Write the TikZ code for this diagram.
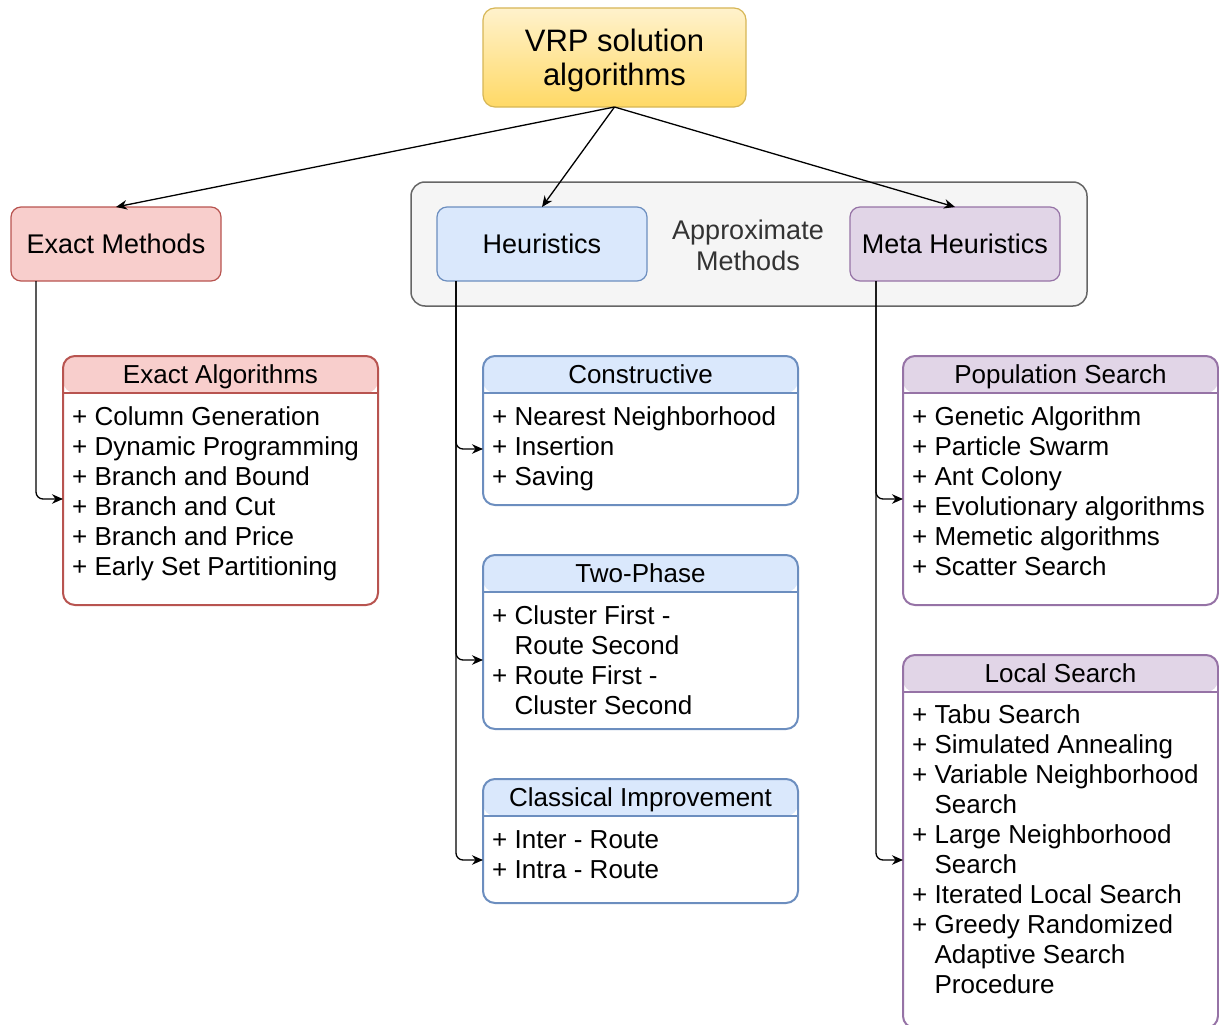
\documentclass[tikz,border=0pt]{standalone}
\usepackage{fontspec}
\setmainfont{Liberation Sans}
\usetikzlibrary{arrows.meta}

\definecolor{rootTop}{HTML}{FFF2CC}
\definecolor{rootBot}{HTML}{FFD966}
\definecolor{rootLine}{HTML}{D6B656}
\definecolor{redFill}{HTML}{F8CECC}
\definecolor{redLine}{HTML}{B85450}
\definecolor{blueFill}{HTML}{DAE8FC}
\definecolor{blueLine}{HTML}{6C8EBF}
\definecolor{purpleFill}{HTML}{E1D5E7}
\definecolor{purpleLine}{HTML}{9673A6}
\definecolor{groupFill}{HTML}{F5F5F5}
\definecolor{groupLine}{HTML}{666666}
\definecolor{groupText}{HTML}{333333}

\tikzset{
  labelfont/.style={font=\fontsize{27}{31}\selectfont},
  listfont/.style={font=\fontsize{26}{30}\selectfont},
  catbox/.style={draw=#1Line, fill=#1Fill, rounded corners=10pt, line width=1.2pt,
    inner sep=0pt, outer sep=0pt, anchor=north west,
    minimum width=210pt, minimum height=74pt, labelfont},
  listframe/.style={draw=#1Line, fill=white, rounded corners=12pt, line width=2pt,
    inner sep=0pt, outer sep=0pt, anchor=north west, minimum width=315pt,
    path picture={\fill[#1Fill] (path picture bounding box.north west)
      rectangle ([yshift=-37pt]path picture bounding box.north east);}},
  sepline/.style={draw=#1Line, line width=2pt},
  headtext/.style={listfont, inner sep=0pt, anchor=base},
  bodytext/.style={listfont, inner sep=0pt, anchor=base west},
  conn/.style={draw=black, line width=1.3pt, -{Stealth[length=11pt,width=9.5pt,inset=3.5pt]}},
  elbow/.style={conn, rounded corners=7pt},
}

\newcommand\itemlist[1]{\begin{tabular}[t]{@{}l@{}}#1\end{tabular}}
\newcommand\cont{\phantom{+ }}

\begin{document}
\begin{tikzpicture}[x=1pt,y=-1pt]
\useasboundingbox (0,0) rectangle (1219,1025);

% group frame for the approximate methods
\node[draw=groupLine, fill=groupFill, line width=1.5pt, rounded corners=14pt,
  inner sep=0pt, outer sep=0pt, anchor=north west,
  minimum width=676pt, minimum height=124pt] (apx) at (411,182) {};
\node[labelfont, text=groupText, align=center, inner sep=0pt] (apxlabel) at (748,245)
  {Approximate\\Methods};

% root
\node[draw=rootLine, top color=rootTop, bottom color=rootBot, line width=1.2pt,
  rounded corners=12pt, inner sep=0pt, outer sep=0pt,
  minimum width=263pt, minimum height=99pt,
  font=\fontsize{31}{34}\selectfont] (root) at (614.5,57.5)
  {\raisebox{-4pt}[\height][\depth]{\begin{tabular}{@{}c@{}}VRP solution\\algorithms\end{tabular}}};

% categories
\node[catbox=red] (em) at (11,207) {Exact Methods};
\node[catbox=blue] (heu) at (437,207) {Heuristics};
\node[catbox=purple] (meta) at (850,207) {Meta Heuristics};

% Exact algorithms
\node[listframe=red, minimum height=249pt] (ea) at (63,356) {};
\draw[sepline=red] ([yshift=-37pt]ea.north west) -- ([yshift=-37pt]ea.north east);
\node[headtext] (ea-t) at ([yshift=-27pt]ea.north) {Exact Algorithms};
\node[bodytext] (ea-b) at ([xshift=9pt,yshift=-69pt]ea.north west) {\itemlist{%
  + Column Generation\\
  + Dynamic Programming\\
  + Branch and Bound\\
  + Branch and Cut\\
  + Branch and Price\\
  + Early Set Partitioning}};
\coordinate (ea-in) at ([yshift=-143pt]ea.north west);

% Constructive
\node[listframe=blue, minimum height=149pt] (con) at (483,356) {};
\draw[sepline=blue] ([yshift=-37pt]con.north west) -- ([yshift=-37pt]con.north east);
\node[headtext] (con-t) at ([yshift=-27pt]con.north) {Constructive};
\node[bodytext] (con-b) at ([xshift=9pt,yshift=-69pt]con.north west) {\itemlist{%
  + Nearest Neighborhood\\
  + Insertion\\
  + Saving}};
\coordinate (con-in) at ([yshift=-93pt]con.north west);

% Two-Phase
\node[listframe=blue, minimum height=174pt] (two) at (483,555) {};
\draw[sepline=blue] ([yshift=-37pt]two.north west) -- ([yshift=-37pt]two.north east);
\node[headtext] (two-t) at ([yshift=-27pt]two.north) {Two-Phase};
\node[bodytext] (two-b) at ([xshift=9pt,yshift=-69pt]two.north west) {\itemlist{%
  + Cluster First -\\
  \cont Route Second\\
  + Route First -\\
  \cont Cluster Second}};
\coordinate (two-in) at ([yshift=-105pt]two.north west);

% Classical improvement
\node[listframe=blue, minimum height=124pt] (cls) at (483,779) {};
\draw[sepline=blue] ([yshift=-37pt]cls.north west) -- ([yshift=-37pt]cls.north east);
\node[headtext] (cls-t) at ([yshift=-27pt]cls.north) {Classical Improvement};
\node[bodytext] (cls-b) at ([xshift=9pt,yshift=-69pt]cls.north west) {\itemlist{%
  + Inter - Route\\
  + Intra - Route}};
\coordinate (cls-in) at ([yshift=-81pt]cls.north west);

% Population search
\node[listframe=purple, minimum height=249pt] (pop) at (903,356) {};
\draw[sepline=purple] ([yshift=-37pt]pop.north west) -- ([yshift=-37pt]pop.north east);
\node[headtext] (pop-t) at ([yshift=-27pt]pop.north) {Population Search};
\node[bodytext] (pop-b) at ([xshift=9pt,yshift=-69pt]pop.north west) {\itemlist{%
  + Genetic Algorithm\\
  + Particle Swarm\\
  + Ant Colony\\
  + Evolutionary algorithms\\
  + Memetic algorithms\\
  + Scatter Search}};
\coordinate (pop-in) at ([yshift=-143pt]pop.north west);

% Local search
\node[listframe=purple, minimum height=373pt] (loc) at (903,655) {};
\draw[sepline=purple] ([yshift=-37pt]loc.north west) -- ([yshift=-37pt]loc.north east);
\node[headtext] (loc-t) at ([yshift=-27pt]loc.north) {Local Search};
\node[bodytext] (loc-b) at ([xshift=9pt,yshift=-68pt]loc.north west) {\itemlist{%
  + Tabu Search\\
  + Simulated Annealing\\
  + Variable Neighborhood\\
  \cont Search\\
  + Large Neighborhood\\
  \cont Search\\
  + Iterated Local Search\\
  + Greedy Randomized\\
  \cont Adaptive Search\\
  \cont Procedure}};
\coordinate (loc-in) at ([yshift=-205pt]loc.north west);

% connectors from the root
\draw[conn] (root.south) -- (em.north);
\draw[conn] (root.south) -- (heu.north);
\draw[conn] (root.south) -- (meta.north);

% elbow connectors into the lists
\coordinate (em-out) at ([xshift=25pt]em.south west);
\coordinate (heu-out) at ([xshift=19pt]heu.south west);
\coordinate (meta-out) at ([xshift=26pt]meta.south west);
\draw[elbow] (em-out) |- (ea-in);
\draw[elbow] (heu-out) |- (con-in);
\draw[elbow] (heu-out) |- (two-in);
\draw[elbow] (heu-out) |- (cls-in);
\draw[elbow] (meta-out) |- (pop-in);
\draw[elbow] (meta-out) |- (loc-in);
\end{tikzpicture}
\end{document}
